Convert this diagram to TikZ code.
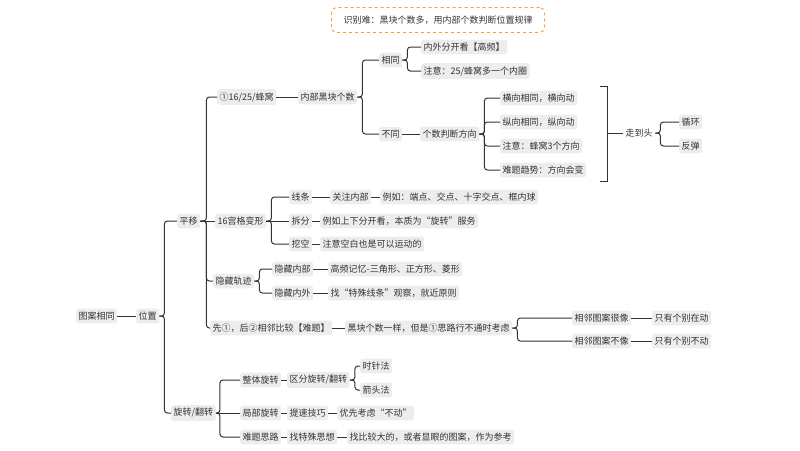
\documentclass[tikz,border=0pt]{standalone}
\usepackage{fontspec}
\setmainfont{Noto Sans CJK SC}
\begin{document}
\begin{tikzpicture}[x=1pt,y=-1pt,
  nd/.style={fill=black!7,rounded corners=2.5pt,inner xsep=2.5pt,inner ysep=3.2pt,anchor=west,font=\fontsize{9}{11}\selectfont,text=black!80},
  ln/.style={draw=black!80,line width=1pt,rounded corners=3pt}]
\useasboundingbox (0,0) rectangle (800,450);
\newcommand\cn[3][5]{\draw[ln] (#2.east) -- ++(#1,0) |- (#3.west);}
\newcommand\cs[2]{\draw[ln] (#1.east) -- (#2.west);}
\node[draw=orange!80,dashed,line width=0.9pt,rounded corners=5pt,minimum width=213pt,minimum height=25pt,font=\fontsize{9}{11}\selectfont,text=black!80] (tip) at (438,20) {识别难：黑块个数多，用内部个数判断位置规律};
\node[nd] (root) at (76,316) {图案相同};
\node[nd] (pos) at (136,316) {位置};
\node[nd] (py) at (177,221) {平移};
\node[nd] (xz) at (171,413) {旋转/翻转};
\node[nd] (a1) at (217,97) {①16/25/蜂窝};
\node[nd] (a2) at (298,97) {内部黑块个数};
\node[nd] (same) at (379,60) {相同};
\node[nd] (s1) at (421,47) {内外分开看【高频】};
\node[nd] (s2) at (421,71) {注意：25/蜂窝多一个内圈};
\node[nd] (diff) at (379,134) {不同};
\node[nd] (d1) at (420,134) {个数判断方向};
\node[nd] (e1) at (500,98) {横向相同，横向动};
\node[nd] (e2) at (500,122) {纵向相同，纵向动};
\node[nd] (e3) at (500,146) {注意：蜂窝3个方向};
\node[nd] (e4) at (500,170) {难题趋势：方向会变};
\node[nd,fill=none] (zdt) at (623,133) {走到头};
\node[nd] (xh) at (679,122) {循环};
\node[nd] (ft) at (679,146) {反弹};
\node[nd] (b1) at (215,221) {16宫格变形};
\node[nd] (xt) at (289,197) {线条};
\node[nd] (gz) at (330,197) {关注内部};
\node[nd] (gz1) at (380,197) {例如：端点、交点、十字交点、框内球};
\node[nd] (cf) at (289,221) {拆分};
\node[nd] (cf1) at (320,221) {例如上下分开看，本质为“旋转”服务};
\node[nd] (wk) at (289,244) {挖空};
\node[nd] (wk1) at (320,244) {注意空白也是可以运动的};
\node[nd] (yc) at (213,281) {隐藏轨迹};
\node[nd] (yc1) at (272,269) {隐藏内部};
\node[nd] (yc1a) at (328,269) {高频记忆-三角形、正方形、菱形};
\node[nd] (yc2) at (272,293) {隐藏内外};
\node[nd] (yc2a) at (328,293) {找“特殊线条”观察，就近原则};
\node[nd] (c1) at (210,328) {先①，后②相邻比较【难题】};
\node[nd] (c2) at (345,328) {黑块个数一样，但是①思路行不通时考虑};
\node[nd] (c3) at (572,318) {相邻图案很像};
\node[nd] (c3a) at (652,318) {只有个别在动};
\node[nd] (c4) at (572,341) {相邻图案不像};
\node[nd] (c4a) at (652,341) {只有个别不动};
\node[nd] (r1) at (240,380) {整体旋转};
\node[nd] (r1a) at (287,380) {区分旋转/翻转};
\node[nd] (r1b) at (360,366) {时针法};
\node[nd] (r1c) at (360,390) {箭头法};
\node[nd] (r2) at (240,413) {局部旋转};
\node[nd] (r2a) at (287,413) {提速技巧};
\node[nd] (r2b) at (337,413) {优先考虑“不动”};
\node[nd] (r3) at (240,437) {难题思路};
\node[nd] (r3a) at (287,437) {找特殊思想};
\node[nd] (r3b) at (347,437) {找比较大的，或者显眼的图案，作为参考};
\cs{root}{pos}
\cn[5]{pos}{py}\cn[5]{pos}{xz}
\cn[6]{py}{a1}\cs{py}{b1}\cn[6]{py}{yc}\cn[6]{py}{c1}
\cs{a1}{a2}
\cn{a2}{same}\cn{a2}{diff}
\cn{same}{s1}\cn{same}{s2}
\cs{diff}{d1}
\cn{d1}{e1}\cn{d1}{e2}\cn{d1}{e3}\cn{d1}{e4}
\draw[ln,rounded corners=0pt] (600,86) -- (607,86) -- (607,181) -- (600,181);
\draw[ln] (607,133) -- (zdt.west);
\cn{zdt}{xh}\cn{zdt}{ft}
\cn{b1}{xt}\cs{b1}{cf}\cn{b1}{wk}
\cs{xt}{gz}\cs{gz}{gz1}\cs{cf}{cf1}\cs{wk}{wk1}
\cn{yc}{yc1}\cn{yc}{yc2}\cs{yc1}{yc1a}\cs{yc2}{yc2a}
\cs{c1}{c2}\cn{c2}{c3}\cn{c2}{c4}\cs{c3}{c3a}\cs{c4}{c4a}
\cn[4]{xz}{r1}\cs{xz}{r2}\cn[4]{xz}{r3}
\cs{r1}{r1a}\cn{r1a}{r1b}\cn{r1a}{r1c}
\cs{r2}{r2a}\cs{r2a}{r2b}\cs{r3}{r3a}\cs{r3a}{r3b}
\end{tikzpicture}
\end{document}
